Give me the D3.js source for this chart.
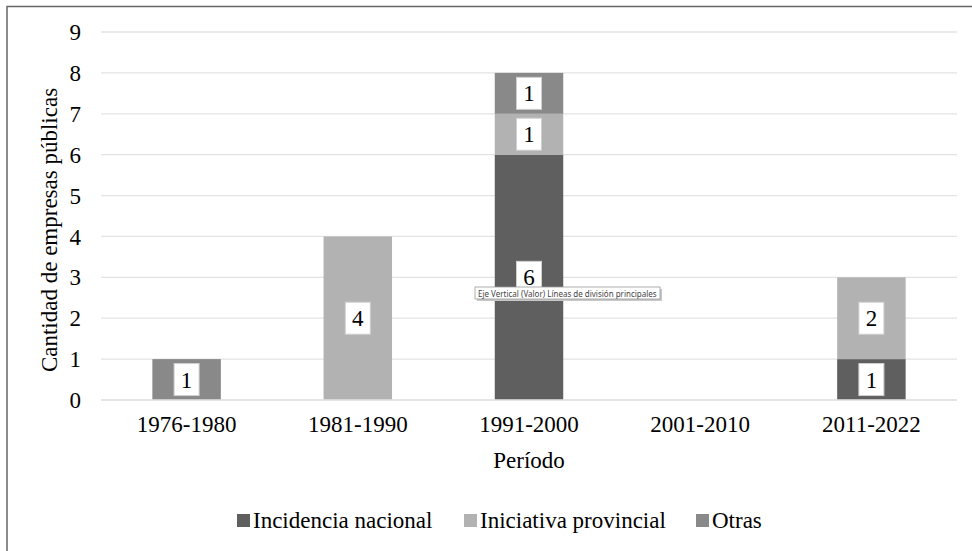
<!DOCTYPE html>
<html><head><meta charset="utf-8">
<script src="https://cdn.jsdelivr.net/npm/d3@7"></script>
<style>body{margin:0;background:#fff}svg{display:block}</style>
</head><body>
<script>
const categories = ["1976-1980","1981-1990","1991-2000","2001-2010","2011-2022"];
const seriesNames = ["Incidencia nacional","Iniciativa provincial","Otras"];
const incidenciaNacional = [0,0,6,0,1];
const iniciativaProvincial = [0,4,1,0,2];
const otras = [1,0,1,0,0];
const yTicks = [0,1,2,3,4,5,6,7,8,9];
const colors = ["#5f5f5f","#b2b2b2","#898989"];

const W=972,H=551;
const font="'Liberation Serif','Times New Roman',serif";
const FS=23;
const svg=d3.select("body").append("svg").attr("width",W).attr("height",H);
svg.append("rect").attr("x",7).attr("y",6.5).attr("width",980).attr("height",560)
  .attr("fill","#fff").attr("stroke","#666").attr("stroke-width",1.5);

const x=d3.scaleBand().domain(categories).range([101,957]).paddingInner(0.6).paddingOuter(0.3);
const y=d3.scaleLinear().domain([0,9]).range([400,32]);

const g=svg.append("g");
g.selectAll("line.grid").data(yTicks).join("line")
  .attr("x1",101).attr("x2",957).attr("y1",d=>y(d)).attr("y2",d=>y(d))
  .attr("stroke","#e3e3e3").attr("stroke-width",1.3);

const rows=categories.map((c,i)=>({cat:c,"Incidencia nacional":incidenciaNacional[i],"Iniciativa provincial":iniciativaProvincial[i],"Otras":otras[i]}));
const stack=d3.stack().keys(seriesNames)(rows);
stack.forEach((s,si)=>{
  g.selectAll("rect.s"+si).data(s.filter(d=>d[1]-d[0]>0)).join("rect")
    .attr("x",d=>x(d.data.cat)).attr("width",x.bandwidth())
    .attr("y",d=>y(d[1])).attr("height",d=>y(d[0])-y(d[1]))
    .attr("fill",colors[si]);
});
g.append("line").attr("x1",101).attr("x2",957).attr("y1",y(0)).attr("y2",y(0)).attr("stroke","#e3e3e3").attr("stroke-width",1.3);

stack.forEach((s,si)=>{
  s.filter(d=>d[1]-d[0]>0).forEach(d=>{
    const cx=x(d.data.cat)+x.bandwidth()/2, cy=y((d[0]+d[1])/2);
    g.append("rect").attr("x",cx-12.5).attr("y",cy-16).attr("width",25).attr("height",32)
      .attr("fill","#fff").attr("stroke","#d0d0d0").attr("stroke-width",1);
    g.append("text").attr("x",cx).attr("y",cy+8).attr("text-anchor","middle")
      .attr("font-family",font).attr("font-size",FS).attr("fill","#000").text(d[1]-d[0]);
  });
});

const yAxis=d3.axisLeft(y).tickValues(yTicks).tickSize(0).tickPadding(0);
const ya=svg.append("g").attr("transform","translate(81,0)").call(yAxis);
ya.select(".domain").remove();
ya.selectAll("text").attr("font-family",font).attr("font-size",FS).attr("fill","#000").attr("dy","0.33em");

const xAxis=d3.axisBottom(x).tickSize(0).tickPadding(0);
const xa=svg.append("g").attr("transform","translate(0,416)").call(xAxis);
xa.select(".domain").remove();
xa.selectAll("text").attr("font-family",font).attr("font-size",FS).attr("fill","#000").attr("dy","0.71em");

svg.append("text").attr("x",529).attr("y",468).attr("text-anchor","middle")
  .attr("font-family",font).attr("font-size",FS).attr("fill","#000").text("Período");
svg.append("text").attr("transform","translate(57,230) rotate(-90)").attr("text-anchor","middle")
  .attr("font-family",font).attr("font-size",FS).attr("fill","#000").text("Cantidad de empresas públicas");

const legX=[237,464,696];
seriesNames.forEach((n,i)=>{
  svg.append("rect").attr("x",legX[i]).attr("y",514).attr("width",13).attr("height",13).attr("fill",colors[i]);
  svg.append("text").attr("x",legX[i]+16).attr("y",528).attr("font-family",font).attr("font-size",FS).attr("fill","#000").text(n);
});

const tt=svg.append("g");
tt.append("rect").attr("x",477).attr("y",289).attr("width",185).attr("height",12).attr("fill","#c8c8c8");
tt.append("rect").attr("x",475).attr("y",287).attr("width",185).attr("height",12).attr("fill","#fff").attr("stroke","#9a9a9a").attr("stroke-width",0.8);
tt.append("text").attr("x",478).attr("y",296.5).attr("font-family","'Noto Sans','DejaVu Sans',sans-serif").attr("font-size",8.0).attr("fill","#444").text("Eje Vertical (Valor)  Líneas de división principales");
</script>
</body></html>
